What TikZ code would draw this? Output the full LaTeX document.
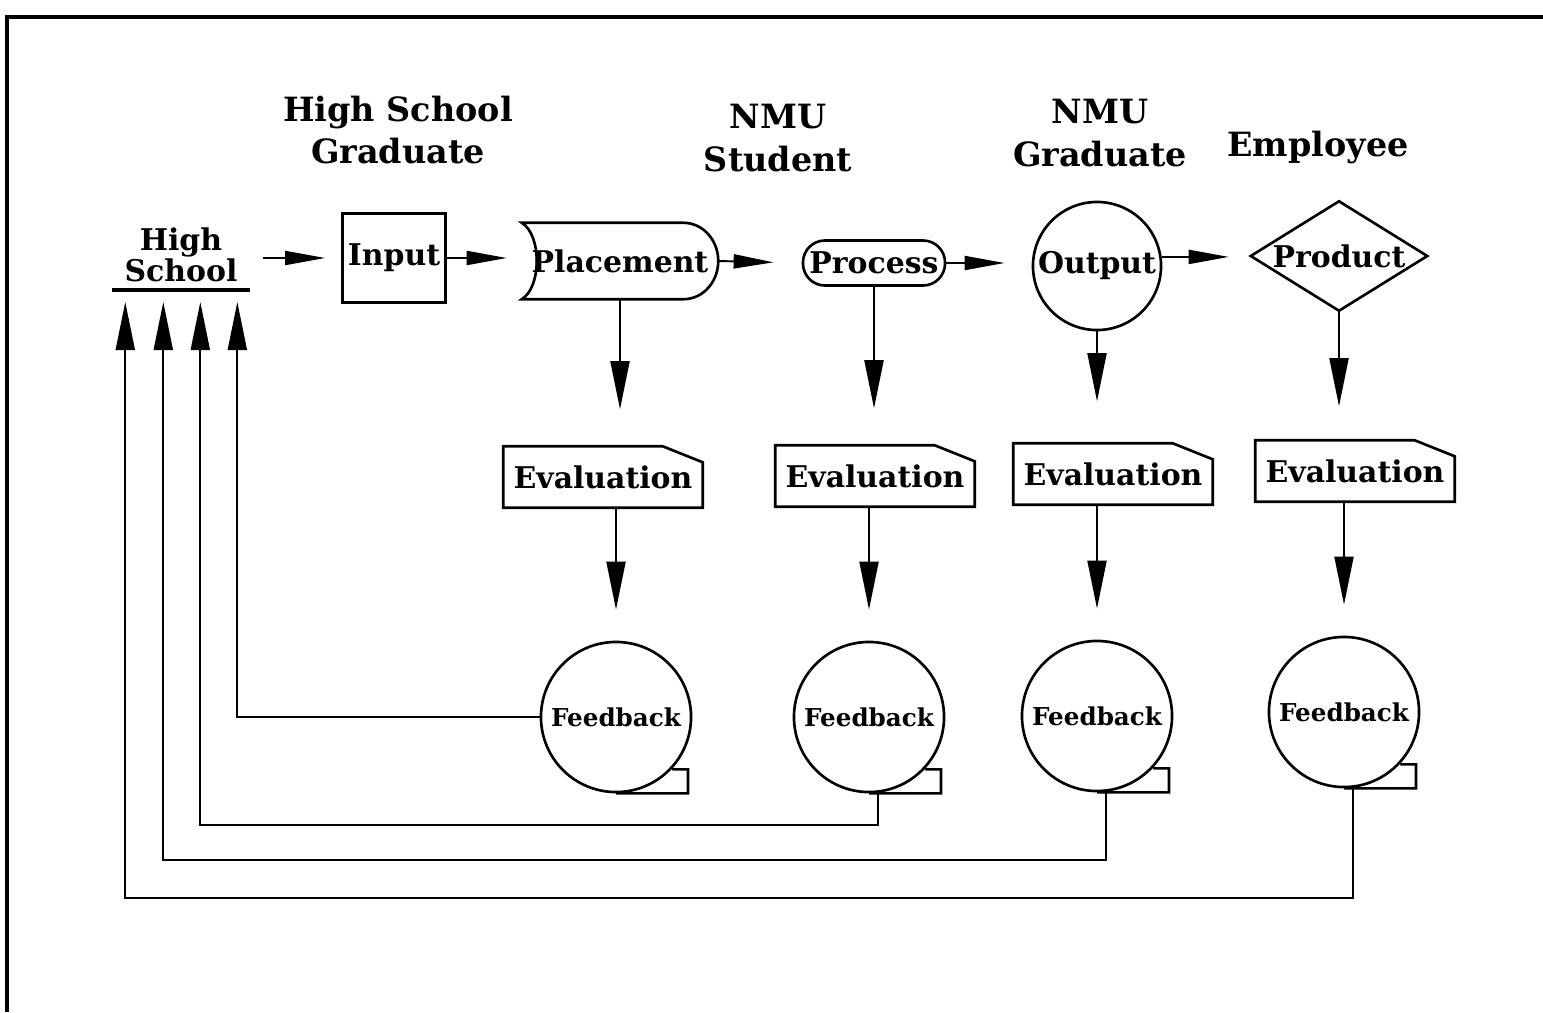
\documentclass[tikz,border=0pt]{standalone}
\usepackage{fontspec}
\setmainfont{DejaVu Serif}
\usetikzlibrary{arrows.meta}
\begin{document}
\begin{tikzpicture}[x=0.01cm, y=-0.01cm, every node/.style={font=\bfseries\fontsize{8.5}{10}\selectfont, inner sep=0pt}, box/.style={draw, line width=0.75pt}, link/.style={line width=0.55pt}, harr/.style={link, -{Triangle[length=0.4cm, width=0.14cm]}}, varr/.style={link, -{Triangle[length=0.48cm, width=0.19cm]}}, stage/.style={align=center, font=\bfseries\fontsize{9.5}{12}\selectfont}]
	\useasboundingbox (0,0) rectangle (1543,1012);
	\draw[line width=0.9pt] (7,1012) -- (7,17) -- (1543,17);
	% stage names
	\node[stage] (hsgrad) at (398,130) {High School\\Graduate};
	\node[stage] (nmustud) at (778,138) {NMU\\Student};
	\node[stage] (nmugrad) at (1100,133) {NMU\\Graduate};
	\node[stage] (employ) at (1318,148) {Employee};
	% main flow
	\node[anchor=south, minimum width=1.36cm, align=center, inner sep=2pt, font=\bfseries\fontsize{8.5}{9}\selectfont] (hs) at (181,290) {High\\School};
	\draw[line width=0.9pt] (hs.south west) -- (hs.south east);
	\node[box, minimum width=1.03cm, minimum height=0.89cm] (input) at (394,258) {Input};
	\node[minimum width=1.95cm, minimum height=0.75cm] (place) at (620,261) {Placement};
	\draw[box] (place.north west) .. controls +(20,12) and +(20,-12) .. (place.south west) -- ([xshift=-0.35cm]place.south east) to[out=0,in=-90] (place.east) to[out=90,in=0] ([xshift=-0.35cm]place.north east) -- cycle;
	\node[box, rounded corners=0.22cm, minimum width=1.42cm, minimum height=0.45cm] (proc) at (874,263) {Process};
	\node[box, circle, minimum size=1.28cm] (out) at (1097,266) {Output};
	\node[minimum width=1.75cm, minimum height=1.08cm] (prod) at (1339,256) {Product};
	\draw[box] (prod.west) -- (prod.north) -- (prod.east) -- (prod.south) -- cycle;
	\draw[harr, shorten <=0.13cm, shorten >=0.16cm] (input.west -| hs.east) -- (input.west);
	\draw[harr, shorten >=0.15cm] (input.east) -- (input.east -| place.west);
	\draw[harr, shorten >=0.28cm] (place.east) -- (proc.west);
	\draw[harr, shorten >=0.27cm] (proc.east) -- (proc.east -| out.west);
	\draw[harr, shorten >=0.22cm] (out.8) -- (out.8 -| prod.west);
	% evaluation and feedback
	\foreach \i/\ex/\ey/\fx/\fy in {1/603/477/616/717, 2/875/476/869/717, 3/1113/474/1097/716, 4/1355/471/1344/712}{
		\node[minimum width=1.98cm, minimum height=0.6cm] (ev\i) at (\ex,\ey) {Evaluation};
		\draw[box] (ev\i.south west) -- (ev\i.north west) -- ([xshift=-0.4cm]ev\i.north east) -- ([yshift=-0.16cm]ev\i.north east) -- (ev\i.south east) -- cycle;
		\node[box, circle, minimum size=1.5cm, font=\bfseries\fontsize{7}{8}\selectfont] (fb\i) at (\fx,\fy) {Feedback};
		\draw[box] (fb\i.south) -- ++(72,0) -- ++(0,-24) -- ++(-12,0) -- (fb\i.-43);
		\draw[varr, shorten >=0.31cm] (ev\i.south -| fb\i.north) -- (fb\i.north);
	}
	\draw[varr, shorten >=0.37cm] (place.south) -- (place.south |- ev1.north);
	\draw[varr, shorten >=0.37cm] (proc.south) -- (proc.south |- ev2.north);
	\draw[varr, shorten >=0.42cm] (out.south) -- (out.south |- ev3.north);
	\draw[varr, shorten >=0.34cm] (prod.south) -- (prod.south |- ev4.north);
	% back to high school
	\draw[varr, shorten >=0.12cm] (fb1.west) -| ([xshift=1.25cm]hs.south west);
	\draw[varr, shorten >=0.12cm] (fb2.-83) -- ++(0,32) -| ([xshift=0.88cm]hs.south west);
	\draw[varr, shorten >=0.12cm] (fb3.-83) -- ++(0,68) -| ([xshift=0.51cm]hs.south west);
	\draw[varr, shorten >=0.12cm] (fb4.-83) -- ++(0,110) -| ([xshift=0.13cm]hs.south west);
\end{tikzpicture}
\end{document}
